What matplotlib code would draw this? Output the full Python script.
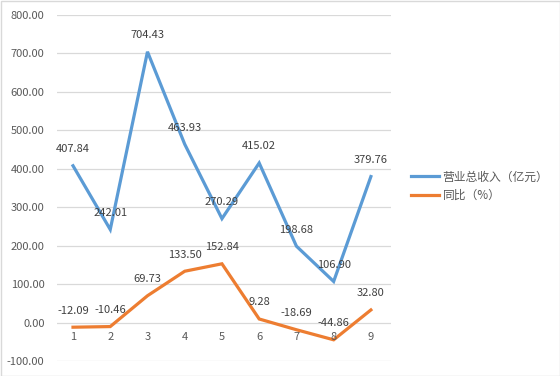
import matplotlib.pyplot as plt
import matplotlib.transforms as mtransforms
from matplotlib.patches import Rectangle

plt.rcParams['font.family'] = ['Noto Sans CJK SC', 'DejaVu Sans']

categories = ['1', '2', '3', '4', '5', '6', '7', '8', '9']
revenue = [407.84, 242.01, 704.43, 463.93, 270.29, 415.02, 198.68, 106.90, 379.76]
growth = [-12.09, -10.46, 69.73, 133.50, 152.84, 9.28, -18.69, -44.86, 32.80]
series_names = ['营业总收入（亿元）', '同比（%）']
yticks = list(range(-100, 801, 100))

blue = '#5B9BD5'
orange = '#ED7D31'
txt = '#404040'

fig = plt.figure(figsize=(5.6, 3.76), dpi=100)
ax = fig.add_axes([57 / 560, 1 - 361 / 376, (391 - 57) / 560, (361 - 15) / 376])

x = list(range(1, len(categories) + 1))
ax.plot(x, revenue, color=blue, lw=2.3, label=series_names[0], solid_joinstyle='miter', zorder=3)
ax.plot(x, growth, color=orange, lw=2.3, label=series_names[1], solid_joinstyle='miter', zorder=3)

# data labels above points
for xi, v in zip(x, revenue):
    ax.annotate(f'{v:.2f}', (xi, v), xytext=(0, 12), textcoords='offset points',
                ha='center', va='center', fontsize=8, color=txt, zorder=4)
for xi, v in zip(x, growth):
    ax.annotate(f'{v:.2f}', (xi, v), xytext=(0, 12), textcoords='offset points',
                ha='center', va='center', fontsize=8, color=txt, zorder=4)

ax.set_ylim(-100, 800)
ax.set_xlim(0.57, 9.54)
ax.set_yticks(yticks)
ax.set_yticklabels([f'{t:.2f}' for t in yticks], fontsize=8, color='#595959')
ax.tick_params(axis='y', length=0, pad=9)
ax.set_xticks([])
ax.grid(axis='y', color='#D9D9D9', lw=0.9)
ax.set_axisbelow(True)
for s in ax.spines.values():
    s.set_visible(False)

# category labels sit just under the zero line
trans = mtransforms.offset_copy(ax.transData, fig=fig, x=0, y=-14, units='dots')
for xi, c in zip(x, categories):
    ax.text(xi, 0, c, transform=trans, ha='center', va='center', fontsize=8, color='#595959')

leg = fig.legend(loc='center left', bbox_to_anchor=(400 / 560, 1 - 186 / 376), frameon=False,
                 fontsize=8.5, handlelength=2.4, handletextpad=0.3, labelspacing=0.45,
                 labelcolor='#595959')

fig.patches.append(Rectangle((0.5 / 560, 0.5 / 376), 1 - 1 / 560, 1 - 1 / 376, transform=fig.transFigure,
                             fill=False, edgecolor='#D9D9D9', lw=1))

fig.savefig('out.png', dpi=100)
